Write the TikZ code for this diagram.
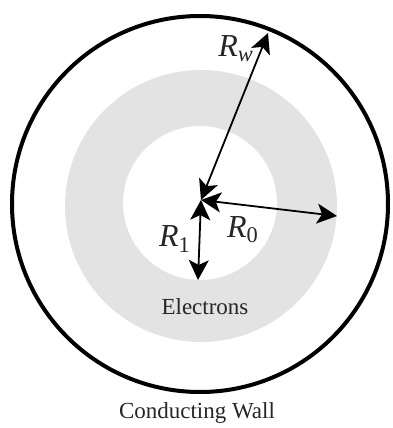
\documentclass[tikz,border=0pt]{standalone}
\usepackage{fontspec}
\setmainfont{Liberation Serif}
\usetikzlibrary{arrows.meta}
\tikzset{
  radius arrow/.style={line width=0.9pt,{Stealth[length=10pt,width=10pt,inset=2.5pt]}-{Stealth[length=10pt,width=10pt,inset=2.5pt]}},
  label text/.style={inner sep=1pt,font=\fontsize{11.5}{13}\selectfont,text=black!85},
  radius label/.style={inner sep=1pt,font=\fontsize{16}{18}\selectfont,text=black!85}
}
\begin{document}
\begin{tikzpicture}[x=0.5pt,y=0.5pt,line cap=round,line join=round]
  \useasboundingbox (-200,-224) rectangle (192,204);
  % electron annulus
  \fill[gray!22,even odd rule] (1,-2) circle[radius=136] (0,1) circle[radius=77];
  % conducting wall
  \draw[line width=2pt] (0,0) circle[radius=188];
  \coordinate (c)  at (1,4);
  \coordinate (rw) at (68,171);
  \coordinate (r0) at (137,-12);
  \coordinate (r1) at (-2,-76);
  \draw[radius arrow] (c) -- (rw);
  \draw[radius arrow] (c) -- (r0);
  \draw[radius arrow] (c) -- (r1);
  \node[radius label] (lw) at (36,155) {\textit{R}\textsubscript{\textit{w}}};
  \node[radius label] (l0) at (43,-26) {\textit{R}\textsubscript{0}};
  \node[radius label] (l1) at (-25,-35) {\textit{R}\textsubscript{1}};
  \node[label text] (el) at (5,-103) {Electrons};
  \node[label text] (cw) at (-3,-209) {Conducting Wall};
\end{tikzpicture}
\end{document}
